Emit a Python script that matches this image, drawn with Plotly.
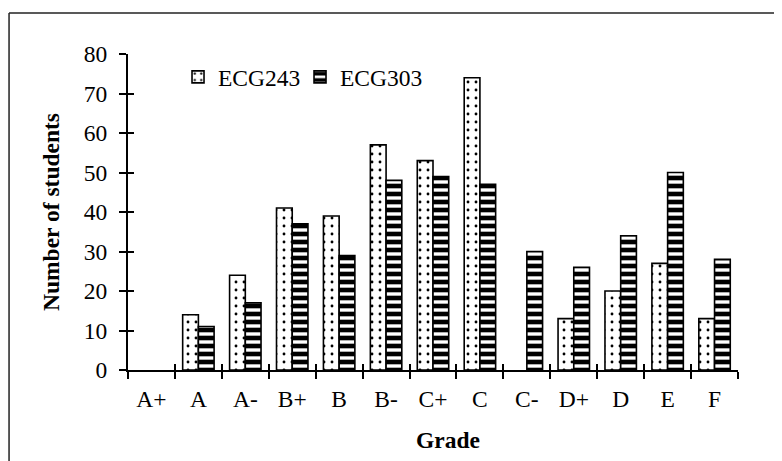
import plotly.graph_objects as go

grades = ["A+", "A", "A-", "B+", "B", "B-", "C+", "C", "C-", "D+", "D", "E", "F"]
ecg243 = [0, 14, 24, 41, 39, 57, 53, 74, 0, 13, 20, 27, 13]
ecg303 = [0, 11, 17, 37, 29, 48, 49, 47, 30, 26, 34, 50, 28]
y_ticks = [0, 10, 20, 30, 40, 50, 60, 70, 80]

FONT = "Liberation Serif, Times New Roman, serif"
FS = 23.5

dot_pattern = dict(shape=".", fgcolor="black", bgcolor="white", fgopacity=1,
                   size=8, solidity=0.1)
stripe_pattern = dict(shape="-", fgcolor="black", bgcolor="white", fgopacity=1,
                      size=8, solidity=0.58)

def outline_widths(vals):
    return [1.6 if v > 0 else 0 for v in vals]

fig = go.Figure()
fig.add_trace(go.Bar(
    x=grades, y=ecg243, name="ECG243", offsetgroup="a", showlegend=False,
    marker=dict(color="white", line=dict(color="black", width=outline_widths(ecg243)),
                pattern=dot_pattern),
))
fig.add_trace(go.Bar(
    x=grades, y=ecg303, name="ECG303", offsetgroup="b", showlegend=False,
    marker=dict(color="white", line=dict(color="black", width=outline_widths(ecg303)),
                pattern=stripe_pattern),
))
# legend entries (no drawn bars) sharing the same offset groups
fig.add_trace(go.Bar(
    x=[grades[0]], y=[None], name="ECG243", offsetgroup="a",
    marker=dict(color="white", line=dict(color="black", width=1.6), pattern=dot_pattern),
))
fig.add_trace(go.Bar(
    x=[grades[0]], y=[None], name="ECG303", offsetgroup="b",
    marker=dict(color="white", line=dict(color="black", width=1.6), pattern=stripe_pattern),
))
# invisible trace to carry the overlay axes (inside half of crossing ticks)
fig.add_trace(go.Scatter(
    x=grades, y=[0] * len(grades), mode="markers", marker=dict(opacity=0),
    showlegend=False, hoverinfo="skip", xaxis="x2", yaxis="y2",
))

axis_common = dict(showline=True, linecolor="black", linewidth=2,
                   tickcolor="black", tickwidth=2, showgrid=False, zeroline=False)

# the page body has a default 8px margin, so margins are compensated
fig.update_layout(
    width=782, height=461,
    margin=dict(l=120, r=52, t=46, b=99, autoexpand=False),
    paper_bgcolor="white", plot_bgcolor="white",
    font=dict(family=FONT, size=FS, color="black"),
    barmode="group", bargap=0.33, bargroupgap=0,
    showlegend=True,
    legend=dict(orientation="h", x=0.082, xanchor="left", y=0.927, yanchor="middle",
                bgcolor="rgba(0,0,0,0)", font=dict(size=FS), itemwidth=30,
                entrywidth=77, entrywidthmode="pixels", traceorder="normal"),
    xaxis=dict(**axis_common, type="category", categoryorder="array",
               categoryarray=grades, range=[-0.5, 12.5], tickson="boundaries",
               ticks="outside", ticklen=7, ticklabelstandoff=7),
    yaxis=dict(**axis_common, range=[0, 80], tickvals=y_ticks, ticks="outside",
               ticklen=7, ticklabelstandoff=7,
               title=dict(text="<b>Number of students</b>", standoff=18,
                          font=dict(size=FS))),
    xaxis2=dict(overlaying="x", type="category", categoryorder="array",
                categoryarray=grades, range=[-0.5, 12.5], tickson="boundaries",
                ticks="inside", ticklen=6, tickcolor="black", tickwidth=2,
                showticklabels=False, showgrid=False, zeroline=False,
                showline=False),
    yaxis2=dict(overlaying="y", range=[0, 80], tickvals=y_ticks, ticks="inside",
                ticklen=6, tickcolor="black", tickwidth=2, showticklabels=False,
                showgrid=False, zeroline=False, showline=False),
    annotations=[
        dict(text="<b>Grade</b>", xref="paper", yref="paper", x=0.525, y=-0.2215,
             xanchor="center", yanchor="middle", showarrow=False,
             font=dict(size=FS)),
    ],
    shapes=[
        dict(type="line", xref="paper", yref="paper", x0=-0.195, x1=1.2,
             y0=1.1297, y1=1.1297, line=dict(color="#222", width=1.5)),
        dict(type="line", xref="paper", yref="paper", x0=-0.195, x1=-0.195,
             y0=1.1297, y1=-0.4, line=dict(color="#222", width=1.5)),
    ],
)

fig.write_html("out.html")
